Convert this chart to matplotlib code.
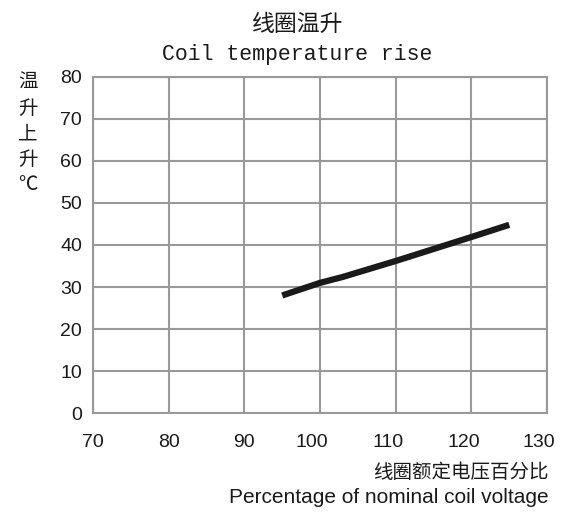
import numpy as np
import matplotlib
matplotlib.use("Agg")
from matplotlib import pyplot as plt
from matplotlib.transforms import ScaledTranslation

plt.rcParams['font.family'] = ['Liberation Sans', 'Noto Sans CJK SC', 'DejaVu Sans']

# curve
voltage_pct = [95, 100, 103, 110, 120, 125]     # % of nominal coil voltage
temp_rise = [28.0, 31.0, 32.4, 36.2, 41.9, 44.8]  # coil temperature rise (C)

x_ticks = [70, 80, 90, 100, 110, 120, 130]
y_ticks = [0, 10, 20, 30, 40, 50, 60, 70, 80]

fig = plt.figure(figsize=(5.64, 5.12), dpi=100)
ax = fig.add_axes([0.165, 0.193, 0.805, 0.657])

ax.plot(voltage_pct, temp_rise, color='#1a1a1a', lw=4.5, solid_capstyle='butt', zorder=3)

ax.set_xlim(70, 130)
ax.set_ylim(0, 80)
ax.set_xticks(x_ticks)
ax.set_yticks(y_ticks)
ax.grid(True, color='#999999', lw=1.5)
for s in ax.spines.values():
    s.set_color('#999999')
    s.set_linewidth(1.5)
ax.tick_params(length=0, labelsize=14, colors='#1a1a1a')
ax.tick_params(axis='x', pad=15)
ax.tick_params(axis='y', pad=8)

# the three digit labels sit a bit left of their grid line in the original
shift = ScaledTranslation(-8 / 100, 0, fig.dpi_scale_trans)
for lbl, v in zip(ax.get_xticklabels(), x_ticks):
    if v >= 100:
        lbl.set_transform(lbl.get_transform() + shift)

cjk = ['Noto Sans CJK SC', 'DejaVu Sans']
fig.text(0.527, 0.953, '线圈温升', ha='center', va='center', fontsize=16.5, family=cjk, color='#1a1a1a')
fig.text(0.527, 0.893, 'Coil temperature rise', ha='center', va='center', fontsize=15.5,
         family=['Liberation Mono', 'DejaVu Sans Mono'], color='#1a1a1a')
fig.text(0.05, 0.739, '温\n升\n上\n升\n℃', ha='center', va='center', fontsize=14,
         family=cjk, linespacing=1.28, color='#1a1a1a')
fig.text(0.972, 0.078, '线圈额定电压百分比', ha='right', va='center', fontsize=14,
         family=cjk, color='#1a1a1a')
fig.text(0.972, 0.029, 'Percentage of nominal coil voltage', ha='right', va='center',
         fontsize=15, color='#1a1a1a')

fig.savefig('out.png', dpi=100)
